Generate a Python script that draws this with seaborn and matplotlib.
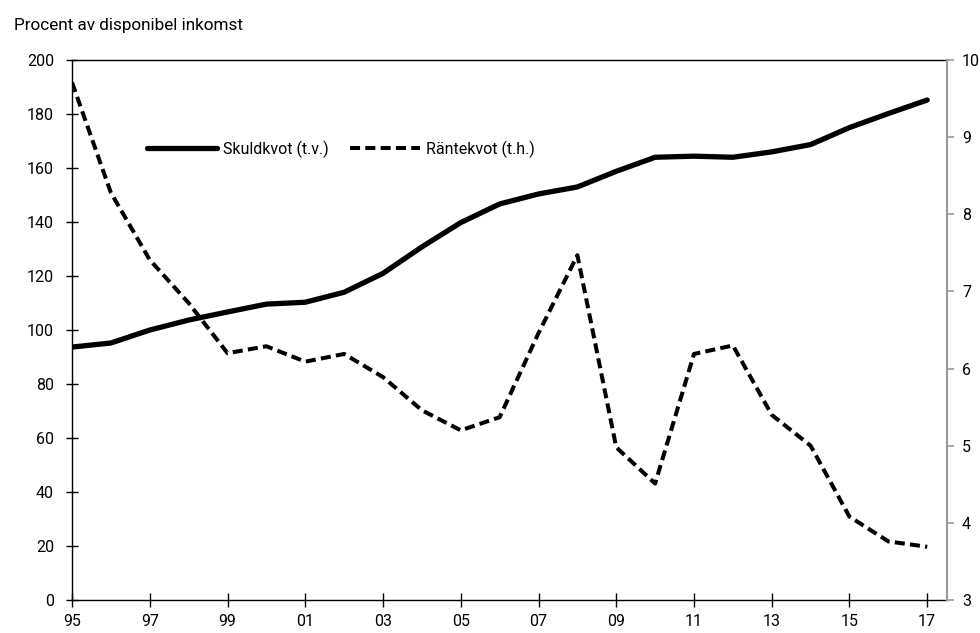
import numpy as np
import pandas as pd
import seaborn as sns
import matplotlib.pyplot as plt
from matplotlib.lines import Line2D

# Data
years = list(range(1995, 2018))
skuldkvot = [93.7, 95.2, 100.0, 103.7, 106.7, 109.6, 110.3, 114.0, 121.0, 130.8,
             139.8, 146.7, 150.4, 153.0, 158.8, 164.0, 164.4, 164.0, 166.0, 168.7,
             175.0, 180.2, 185.2]
rantekvot = [9.71, 8.28, 7.41, 6.85, 6.20, 6.29, 6.09, 6.19, 5.89, 5.46,
             5.20, 5.37, 6.46, 7.47, 4.98, 4.51, 6.19, 6.30, 5.40, 5.00,
             4.08, 3.76, 3.69]
xtick_years = list(range(1995, 2018, 2))
xtick_labels = [f"{y % 100:02d}" for y in xtick_years]

df = pd.DataFrame({"year": years, "skuld": skuldkvot, "ranta": rantekvot})

sns.set_theme(style="white")
plt.rcParams['font.family'] = ['Roboto', 'DejaVu Sans']
plt.rcParams['text.color'] = 'black'
plt.rcParams['xtick.color'] = 'black'
plt.rcParams['ytick.color'] = 'black'

GRAY = "#999999"
DASH = [2.5, 1.3]

fig = plt.figure(figsize=(9.8, 6.33), dpi=100)
ax = fig.add_axes([0.0735, 0.0521, 0.8925, 0.853])
ax2 = ax.twinx()

sns.lineplot(data=df, x="year", y="skuld", ax=ax, color="black", linewidth=3.8,
             solid_capstyle="round")
sns.lineplot(data=df, x="year", y="ranta", ax=ax2, color="black", linewidth=2.9)
ax2.lines[0].set_dashes(DASH)

ax.set_xlim(1995, 2017.5)
ax.set_ylim(0, 200)
ax2.set_ylim(3, 10)
ax.set_yticks(range(0, 201, 20))
ax2.set_yticks(range(3, 11))
ax.set_xticks(xtick_years)
ax.set_xticklabels(xtick_labels)
ax.set_xlabel("")
ax.set_ylabel("")
ax2.set_ylabel("")

for s in ["left", "top", "bottom"]:
    ax.spines[s].set_color("black")
    ax.spines[s].set_linewidth(1.0)
ax.spines["right"].set_visible(False)
for s in ["left", "top", "bottom"]:
    ax2.spines[s].set_visible(False)
ax2.spines["right"].set_color(GRAY)
ax2.spines["right"].set_linewidth(1.5)

ax.tick_params(axis="x", direction="inout", length=10, width=1, color="black",
               labelsize=11.5, pad=5, bottom=True)
ax.tick_params(axis="y", direction="inout", length=8, width=1, color="black",
               labelsize=11.5, pad=9, left=True)
ax2.tick_params(axis="y", direction="out", length=5, width=1.2, color=GRAY,
                labelsize=11.5, pad=6, right=True)
ax.grid(False)
ax2.grid(False)

handles = [Line2D([], [], color="black", linewidth=3.8, solid_capstyle="round"),
           Line2D([], [], color="black", linewidth=2.9, dashes=DASH)]
ax.legend(handles, ["Skuldkvot (t.v.)", "Räntekvot (t.h.)"], loc="center left",
          bbox_to_anchor=(0.069, 0.835), ncol=2, frameon=False, fontsize=11.5,
          handlelength=4.4, handletextpad=0.35, columnspacing=1.35)

fig.text(0.014, 0.96, "Procent av disponibel inkomst", fontsize=12.3, va="center")

fig.savefig("out.png", dpi=100)
